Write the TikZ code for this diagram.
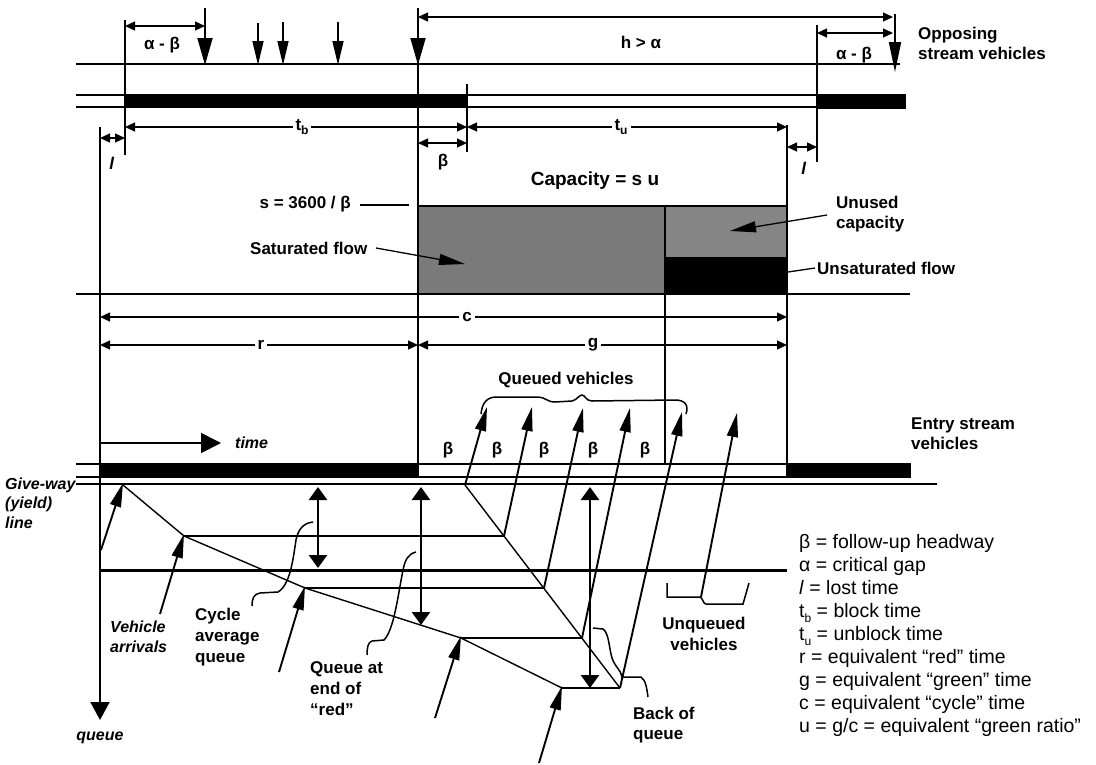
\documentclass[tikz,border=0pt]{standalone}
\usepackage{fontspec}
\setmainfont{Liberation Sans}
\usetikzlibrary{arrows.meta}
\newcommand{\fLab}{\fontsize{17}{20}\selectfont\bfseries}
\newcommand{\fIt}{\fontsize{16}{19.5}\selectfont\bfseries\itshape}
\newcommand{\fLeg}{\fontsize{19.5}{23.1}\selectfont}
\newcommand{\mysub}[1]{\raisebox{-0.45ex}{\fontsize{12}{12}\selectfont #1}}
\begin{document}
\begin{tikzpicture}[x=1pt,y=-1pt,
  thinln/.style={line width=1.3pt},
  medln/.style={line width=1.8pt},
  dimtip/.tip={Triangle[length=10pt,width=9pt]},
  dim/.style={thinln,dimtip-dimtip},
  bigdown/.style={line width=1.8pt,-{Triangle[length=27pt,width=15pt]}},
  smalldown/.style={line width=1.5pt,-{Triangle[length=24pt,width=11pt]}},
  veh/.style={line width=1.9pt,-{Triangle[length=24pt,width=11pt]}},
  dbl/.style={line width=2.6pt,{Triangle[length=13pt,width=18pt]}-{Triangle[length=13pt,width=18pt]}},
  leader/.style={line width=1.3pt,-{Triangle[length=26pt,width=11pt]}},
  curly/.style={line width=1.5pt},
  lab/.style={font=\fLab,inner sep=0pt},
  dlab/.style={font=\fLab,fill=white,inner sep=3pt},
  itlab/.style={font=\fIt,inner sep=0pt},
  leg/.style={font=\fLeg,inner sep=0pt,align=left,anchor=west}]
\useasboundingbox (0,0) rectangle (1096,764);

% ---------- fills ----------
\fill[black!52] (418,206) rectangle (665,293);
\fill[black!48] (665,206) rectangle (787,257);
\fill[black] (665,257) rectangle (787,293);
\fill (125,94) rectangle (467,108);
\fill (817,95) rectangle (906,109);
\fill (100,463) rectangle (418,478);
\fill (787,463) rectangle (911,478);

% ---------- top: opposing stream ----------
\coordinate (opL) at (76,64);   \coordinate (opR) at (900,64);
\coordinate (laTL) at (76,95);  \coordinate (laTR) at (906,95);
\coordinate (laBL) at (76,107); \coordinate (laBR) at (906,107);
\draw[thinln] (opL) -- (opR);
\draw[thinln] (laTL) -- (laTR);
\draw[thinln] (laBL) -- (laBR);

% vertical reference lines
\coordinate (v1T) at (125,20);  \coordinate (v1B) at (125,155);
\coordinate (gT) at (418,8);    \coordinate (gB) at (418,478);
\coordinate (bT) at (467,84);   \coordinate (bB) at (467,152);
\coordinate (uT) at (817,25);   \coordinate (uB) at (817,162);
\coordinate (eT) at (787,125);  \coordinate (eB) at (787,478);
\coordinate (dvT) at (665,206); \coordinate (dvB) at (665,464);
\coordinate (axT) at (100,127); \coordinate (axB) at (100,720);
\draw[medln] (v1T) -- (v1B);
\draw[medln] (gT) -- (gB);
\draw[medln] (bT) -- (bB);
\draw[medln] (uT) -- (uB);
\draw[medln] (eT) -- (eB);
\draw[medln] (dvT) -- (dvB);
\draw[line width=2pt,-{Triangle[length=18pt,width=19pt]}] (axT) -- (axB);

% opposing vehicle arrivals
\coordinate (d1T) at (205,8);  \coordinate (d1B) at (205,65);
\coordinate (d2T) at (258,23); \coordinate (d2B) at (258,65);
\coordinate (d3T) at (283,22); \coordinate (d3B) at (283,65);
\coordinate (d4T) at (338,22); \coordinate (d4B) at (338,65);
\coordinate (d5T) at (418,8);  \coordinate (d5B) at (418,65);
\coordinate (d6T) at (895,14); \coordinate (d6B) at (895,72);
\draw[bigdown] (d1T) -- (d1B);
\draw[smalldown] (d2T) -- (d2B);
\draw[smalldown] (d3T) -- (d3B);
\draw[smalldown] (d4T) -- (d4B);
\draw[bigdown] (d5T) -- (d5B);
\draw[line width=1.8pt,-{Triangle[length=30pt,width=12pt]}] (d6T) -- (d6B);

% dimension arrows, top
\coordinate (ab1) at (125,26); \coordinate (ab2) at (205,26);
\draw[dim] (ab1) -- (ab2);
\node[lab] (tAB1) at (162,45) {α - β};
\coordinate (h1) at (418,17); \coordinate (h2) at (893,17);
\draw[dim] (h1) -- (h2);
\node[lab] (tH) at (641,42) {h > α};
\coordinate (ab3) at (817,33); \coordinate (ab4) at (893,33);
\draw[dim] (ab3) -- (ab4);
\node[lab] (tAB2) at (854,55) {α - β};
\node[lab,align=left,anchor=west] (tOpp) at (918,43) {Opposing\\stream vehicles};

\coordinate (tb1) at (125,127); \coordinate (tb2) at (467,127);
\coordinate (tu2) at (787,127);
\draw[dim] (tb1) -- (tb2);
\draw[dim] (tb2) -- (tu2);
\node[dlab] (tTb) at (302,127) {t\mysub{b}};
\node[dlab] (tTu) at (621,127) {t\mysub{u}};

\coordinate (l1) at (100,138); \coordinate (l2) at (125,138);
\draw[dim] (l1) -- (l2);
\node[lab] (tL1) at (112,163) {\textit{l}};
\coordinate (be1) at (418,143); \coordinate (be2) at (467,143);
\draw[dim] (be1) -- (be2);
\node[lab] (tBe) at (443,162) {β};
\coordinate (l3) at (787,147); \coordinate (l4) at (817,147);
\draw[dim] (l3) -- (l4);
\node[lab] (tL2) at (804,168) {\textit{l}};

% ---------- capacity block ----------
\node[lab,font=\fontsize{19}{22}\selectfont\bfseries] (tCap) at (595,181) {Capacity = s u};
\coordinate (bxTL) at (418,206); \coordinate (bxTR) at (787,206);
\draw[thinln] (bxTL) -- (bxTR);
\coordinate (fxL) at (76,294); \coordinate (fxR) at (910,294);
\draw[thinln] (fxL) -- (fxR);

\node[lab,anchor=east] (tS) at (351,204) {s = 3600 / β};
\coordinate (sd1) at (360,205); \coordinate (sd2) at (409,205);
\draw[thinln] (sd1) -- (sd2);

\node[lab,anchor=west] (tSat) at (250,248) {Saturated flow};
\coordinate (sa1) at (376,248); \coordinate (sa2) at (465,264);
\draw[leader] (sa1) -- (sa2);

\node[lab,align=left,anchor=west] (tUnu) at (836,214) {Unused\\capacity};
\coordinate (un1) at (827,215); \coordinate (un2) at (730,231);
\draw[leader] (un1) -- (un2);

\node[lab,anchor=west] (tUns) at (817,268) {Unsaturated flow};
\coordinate (us1) at (788,272); \coordinate (us2) at (815,268);
\draw[thinln] (us1) -- (us2);

% ---------- c, r, g ----------
\coordinate (c1) at (100,317); \coordinate (c2) at (787,317);
\draw[dim] (c1) -- (c2);
\node[dlab] (tC) at (467,317) {c};
\coordinate (r1) at (100,345); \coordinate (r2) at (418,345); \coordinate (g2) at (787,345);
\draw[dim] (r1) -- (r2);
\draw[dim] (r2) -- (g2);
\node[dlab] (tR) at (261,345) {r};
\node[dlab] (tG) at (593,345) {g};

% ---------- queued vehicles ----------
\node[lab] (tQv) at (566,380) {Queued vehicles};
\draw[curly] (481,414) .. controls (482,405) and (485,398) .. (495,397) -- (538,397)
  .. controls (545,397) and (547,402) .. (555,402) -- (572,401)
  .. controls (577,400) and (579,395) .. (582,395)
  .. controls (585,395) and (586,401) .. (592,401) -- (675,400)
  .. controls (685,400) and (689,405) .. (686,414);

\coordinate (tm1) at (100,443); \coordinate (tm2) at (221,443);
\draw[line width=1.8pt,-{Triangle[length=20pt,width=20pt]}] (tm1) -- (tm2);
\node[itlab,anchor=west] (tTime) at (235,443) {time};

\node[lab,align=left,anchor=west] (tEntry) at (911,434) {Entry stream\\vehicles};

\foreach \bx/\nm in {448/b1,497/b2,544/b3,593/b4,645/b5}
  \node[lab] (\nm) at (\bx,450) {β};

% ---------- entry lane ----------
\coordinate (elTL) at (76,464); \coordinate (elTR) at (911,464);
\coordinate (elBL) at (76,477); \coordinate (elBR) at (911,477);
\coordinate (gwL) at (76,484);  \coordinate (gwR) at (937,484);
\draw[thinln] (elTL) -- (elTR);
\draw[thinln] (elBL) -- (elBR);
\draw[thinln] (gwL) -- (gwR);
\node[itlab,align=left,anchor=west] (tGw) at (5,503) {Give-way\\(yield)\\line};

% ---------- queue diagram ----------
\coordinate (p0) at (123,485);
\coordinate (p1) at (184,536);
\coordinate (p2) at (305,588);
\coordinate (p3) at (461,638);
\coordinate (p4) at (562,688);
\coordinate (q0) at (465,485);
\coordinate (q1) at (504,536);
\coordinate (q2) at (544,588);
\coordinate (q3) at (582,638);
\coordinate (q4) at (620,688);
\draw[line width=1.4pt] (p0) -- (p1) -- (p2) -- (p3) -- (p4);
\draw[line width=1.4pt] (p1) -- (q1);
\draw[line width=1.4pt] (p2) -- (q2);
\draw[line width=1.4pt] (p3) -- (q3);
\draw[line width=1.4pt] (p4) -- (q4);
\draw[line width=1.4pt] (q0) -- (q4);

\coordinate (avL) at (100,570); \coordinate (avR) at (787,570);
\draw[line width=3pt] (avL) -- (avR);

\coordinate (dA1) at (318,487); \coordinate (dA2) at (318,568);
\coordinate (dB1) at (421,487); \coordinate (dB2) at (421,625);
\coordinate (dC1) at (590,487); \coordinate (dC2) at (590,688);
\draw[dbl] (dA1) -- (dA2);
\draw[dbl] (dB1) -- (dB2);
\draw[dbl] (dC1) -- (dC2);

% arrivals
\coordinate (va0) at (101,550);
\coordinate (va1) at (160,614);
\coordinate (va2) at (279,672);
\coordinate (va3) at (435,718);
\coordinate (va4) at (539,763);
\draw[veh] (va0) -- ([yshift=2pt]p0);
\draw[veh] (va1) -- ([yshift=2pt]p1);
\draw[veh] (va2) -- ([yshift=2pt]p2);
\draw[veh] (va3) -- ([yshift=2pt]p3);
\draw[veh] (va4) -- ([yshift=2pt]p4);

% departures
\coordinate (w0) at (487,407);
\coordinate (w1) at (532,407);
\coordinate (w2) at (583,408);
\coordinate (w3) at (630,408);
\coordinate (w4) at (682,412);
\draw[veh] (q0) -- (w0);
\draw[veh] (q1) -- (w1);
\draw[veh] (q2) -- (w2);
\draw[veh] (q3) -- (w3);
\draw[veh] (q4) -- (w4);
\coordinate (uq0) at (701,597); \coordinate (uq1) at (737,413);
\draw[veh] (uq0) -- (uq1);

% brackets
\draw[curly] (313,522) .. controls (303,523) and (298,530) .. (296,540)
  .. controls (293,560) and (290,585) .. (278,592) -- (260,593)
  .. controls (254,594) and (252,598) .. (252,606);
\draw[curly] (416,552) .. controls (408,554) and (405,560) .. (403,570)
  .. controls (398,595) and (394,630) .. (384,640) -- (372,641)
  .. controls (368,642) and (367,648) .. (367,655);
\draw[curly] (593,628) -- (603,629) .. controls (609,633) and (609,648) .. (612,658)
  .. controls (615,667) and (621,670) .. (622,677) -- (641,677)
  .. controls (646,680) and (647,690) .. (648,697);
\draw[curly] (667,583) -- (667,597) -- (700,597)
  .. controls (703,598) and (703,604) .. (706,604) -- (743,604) -- (749,583);

% labels
\node[itlab,align=left,anchor=west] (tVa) at (110,637) {Vehicle\\arrivals};
\node[lab,align=left,anchor=west,font=\fontsize{17}{21}\selectfont\bfseries] (tCyc) at (195,637) {Cycle\\average\\queue};
\node[lab,align=left,anchor=west,font=\fontsize{17}{21}\selectfont\bfseries] (tQe) at (310,689) {Queue at\\end of\\“red”};
\node[itlab] (tQ) at (100,738) {queue};
\node[lab,align=left,anchor=west] (tBq) at (633,725) {Back of\\queue};
\node[lab,align=center,font=\fontsize{17}{21}\selectfont\bfseries] (tUq) at (704,634) {Unqueued\\vehicles};

% legend
\node[leg] (legend) at (799,635.5) {β = follow-up headway\\
α = critical gap\\
\textit{l} = lost time\\
t\mysub{b} = block time\\
t\mysub{u} = unblock time\\
r = equivalent “red” time\\
g = equivalent “green” time\\
c = equivalent “cycle” time\\
u = g/c = equivalent “green ratio”};
\end{tikzpicture}
\end{document}
